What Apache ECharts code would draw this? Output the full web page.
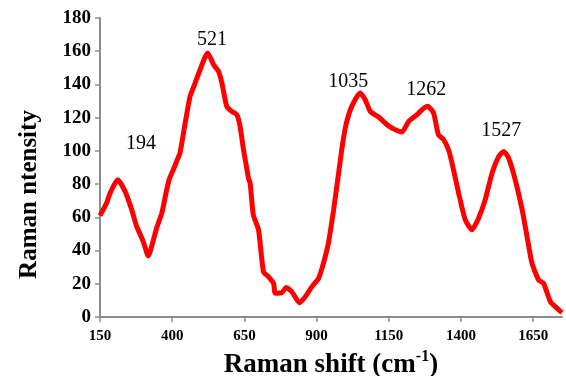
<!DOCTYPE html>
<html>
<head>
<meta charset="utf-8">
<script src="https://cdn.jsdelivr.net/npm/echarts@6/dist/echarts.min.js"></script>
<style>
html,body{margin:0;padding:0;background:#fff;}
#chart{width:566px;height:376px;}
</style>
</head>
<body>
<div id="chart"></div>
<script>
var ramanShift = [150,173,185,211,237,260,277,300,317,335,346,364,381,390,404,416,427,445,462,473,497,523,543,560,572,589,606,624,635,647,653,664,670,681,699,716,733,751,757,780,795,814,841,861,884,907,924,941,959,976,990,1003,1022,1051,1068,1086,1115,1144,1172,1196,1219,1248,1265,1284,1305,1322,1340,1357,1369,1392,1415,1438,1461,1484,1508,1531,1548,1565,1588,1612,1629,1646,1669,1686,1710,1733,1750];
var intensity = [61,68.6,74.6,82.6,75.6,64.5,54.5,45.4,36.8,46.4,53.5,62.5,76.6,83,88.7,94,98.7,116.8,132.9,137.9,149,159,152,148,141,126.8,123.8,121.8,114.8,100.7,94.7,83.7,80.6,61.5,52.5,27.3,24.3,20.3,14.3,14.7,17.7,15.3,8.6,12.2,18.3,23.3,32.4,44.5,64.5,86,104,116.5,126.8,134.9,130.9,123.8,120.4,115.8,112.8,111.4,117.8,121.8,124.8,126.8,122.9,109.8,106.8,100.7,92.7,74.6,58.5,52.5,59.5,70.6,86.7,96.7,99.7,95.7,82.6,64.5,48.4,32.4,22.3,20.3,9.2,5.2,2.6];
var peakLabels = ['194','521','1035','1262','1527'];
var peakLabelX = [292,538,1010,1280,1540];
var peakLabelY = [104,167,141.7,137,112];
var xTicks = [150,400,650,900,1150,1400,1650];
var yTicks = [0,20,40,60,80,100,120,140,160,180];

var seriesData = ramanShift.map(function(x,i){return [x,intensity[i]];});
var markData = peakLabels.map(function(t,i){
  return {coord:[peakLabelX[i],peakLabelY[i]], value:t};
});

var chart = echarts.init(document.getElementById('chart'));
chart.setOption({
  animation:false,
  backgroundColor:'#ffffff',
  grid:{left:100,top:18,right:4,bottom:59,containLabel:false,outerBoundsMode:'none'},
  xAxis:{
    type:'value', min:150, max:1750, interval:250,
    name:'{a|Raman shift (cm}{s|-1}{a|)}',
    nameLocation:'middle', nameGap:32,
    nameTextStyle:{
      rich:{
        a:{fontFamily:'Liberation Serif',fontWeight:'bold',fontSize:27,color:'#000',verticalAlign:'bottom',lineHeight:30},
        s:{fontFamily:'Liberation Serif',fontWeight:'bold',fontSize:16,color:'#000',verticalAlign:'top',lineHeight:30,padding:[0,0,15,0]}
      }
    },
    axisLine:{show:true,lineStyle:{color:'#8c8c8c',width:2}},
    axisTick:{show:true,inside:false,length:5,lineStyle:{color:'#8c8c8c',width:1.5}},
    axisLabel:{
      showMaxLabel:false, margin:12,
      fontFamily:'Liberation Serif',fontWeight:'bold',fontSize:15,color:'#000',
      formatter:function(v){return xTicks.indexOf(v)>=0?String(v):'';}
    },
    splitLine:{show:false}
  },
  yAxis:{
    type:'value', min:0, max:180, interval:20,
    name:'Raman ntensity',
    nameLocation:'middle', nameGap:58, nameRotate:90,
    nameTextStyle:{fontFamily:'Liberation Serif',fontWeight:'bold',fontSize:25,color:'#000',padding:[0,54,0,0]},
    axisLine:{show:true,lineStyle:{color:'#8c8c8c',width:2}},
    axisTick:{show:true,inside:false,length:5,lineStyle:{color:'#8c8c8c',width:1.5}},
    axisLabel:{
      margin:9,
      fontFamily:'Liberation Serif',fontWeight:'bold',fontSize:19,color:'#000',
      formatter:function(v){return yTicks.indexOf(v)>=0?String(v):'';}
    },
    splitLine:{show:false}
  },
  series:[{
    type:'line',
    data:seriesData,
    showSymbol:false,
    smooth:0.2,
    lineStyle:{color:'#ff0000',width:5},
    itemStyle:{color:'#ff0000'},
    markPoint:{
      symbol:'rect', symbolSize:1,
      itemStyle:{color:'rgba(0,0,0,0)'},
      label:{show:true,position:'inside',fontFamily:'Liberation Serif',fontSize:20,color:'#000',
        formatter:function(p){return p.value;}},
      data:markData
    }
  }]
});
</script>
</body>
</html>
